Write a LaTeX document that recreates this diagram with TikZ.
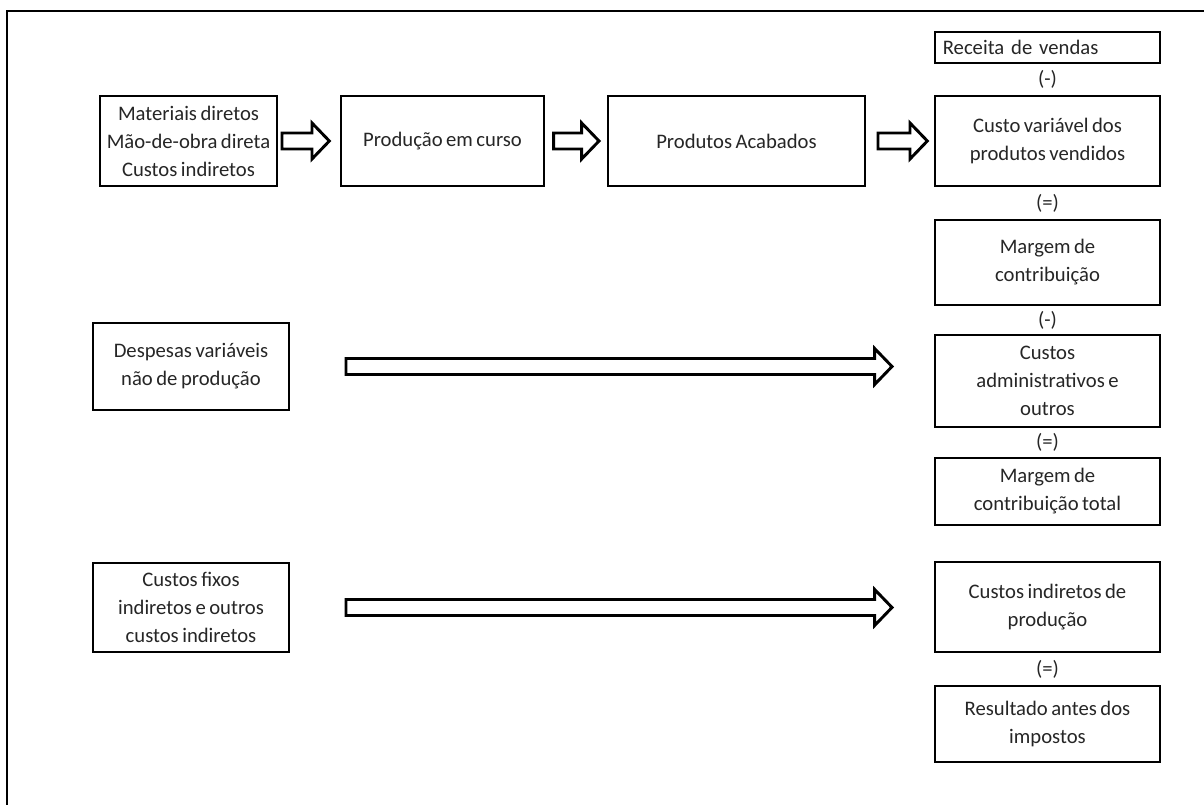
\documentclass[tikz,border=0pt]{standalone}
\usepackage{fontspec}
\setmainfont[WordSpace=0.75]{Carlito}
\usepackage{tikz}
\usetikzlibrary{positioning,calc}
\definecolor{inktext}{HTML}{262626}
\tikzset{
  box/.style    = {rectangle, draw=black, line width=1.5pt, fill=white, align=center,
                   inner sep=0pt, text=inktext, minimum width=#1*0.75pt},
  box/.default  = 225,
  tall/.style   = {minimum height=#1*0.75pt},
  sign/.style   = {text=inktext, inner sep=0pt},
  hollow/.style = {draw=black, fill=white, line width=2.2pt, line join=miter},
  frame/.style  = {draw=black, line width=1.2pt},
}
% hollow block arrow from #1 (its height) to the x of #2
\newcommand{\blockarrow}[2]{%
  \draw[hollow] let \p1=(#1), \p2=(#2) in
    (\x1,\y1+6pt) -- (\x2-13pt,\y1+6pt) -- (\x2-13pt,\y1+13.5pt) -- (\x2,\y1)
    -- (\x2-13pt,\y1-13.5pt) -- (\x2-13pt,\y1-6pt) -- (\x1,\y1-6pt) -- cycle;}

\begin{document}
\begin{tikzpicture}[x=0.75pt, y=-0.75pt, font=\fontsize{15.5}{21}\selectfont]
  \useasboundingbox (0,0) rectangle (1204,805);
  \draw[frame] (7,805) -- (7,11) -- (1204,11);

  % production flow
  \node[box=177, tall=90] (mat) at (188.5,141)
    {Materiais diretos\\ Mão-de-obra direta\\ Custos indiretos};
  \node[box=203, tall=90] (prod) at (442.5,141) {Produção em curso};
  \node[box=257, tall=90] (acab) at (736.5,141) {Produtos Acabados};

  % right column
  \node[box, tall=31, align=left, inner xsep=6pt, text width=157pt] (rec) at (1047.5,47.5) {Receita de vendas};
  \node[box, tall=90] (cvar) at (1047.5,141) {Custo variável dos\\ produtos vendidos};
  \node[box, tall=85] (mc) at (1047.5,262.5) {Margem de\\ contribuição};
  \node[box, tall=92] (cadm) at (1047.5,381) {Custos\\ administrativos e\\ outros};
  \node[box, tall=67] (mct) at (1047.5,491.5) {Margem de\\ contribuição total};
  \node[box, tall=90] (cind) at (1047.5,607) {Custos indiretos de\\ produção};
  \node[box, tall=76] (res) at (1047.5,724) {Resultado antes dos\\ impostos};

  \node[sign] (s1) at ($(rec.south)!0.5!(cvar.north)$) {(-)};
  \node[sign] (s2) at ($(cvar.south)!0.5!(mc.north)$) {(=)};
  \node[sign] (s3) at ($(mc.south)!0.5!(cadm.north)$) {(-)};
  \node[sign] (s4) at ($(cadm.south)!0.5!(mct.north)$) {(=)};
  \node[sign] (s5) at ($(cind.south)!0.5!(res.north)$) {(=)};

  % other costs
  \node[box=196, tall=87] (desp) at (191,366.5) {Despesas variáveis\\ não de produção};
  \node[box=196, tall=89] (fix) at (191,607.5) {Custos fixos\\ indiretos e outros\\ custos indiretos};

  \blockarrow{[xshift=3pt]mat.east}{[xshift=-8pt]prod.west}
  \blockarrow{[xshift=6.5pt]prod.east}{[xshift=-6pt]acab.west}
  \blockarrow{[xshift=9pt]acab.east}{[xshift=-5pt]cvar.west}
  \blockarrow{[xshift=42pt]desp.east}{[xshift=-31.5pt]cadm.west}
  \blockarrow{[xshift=42pt]fix.east}{[xshift=-31.5pt]cind.west}
\end{tikzpicture}
\end{document}
